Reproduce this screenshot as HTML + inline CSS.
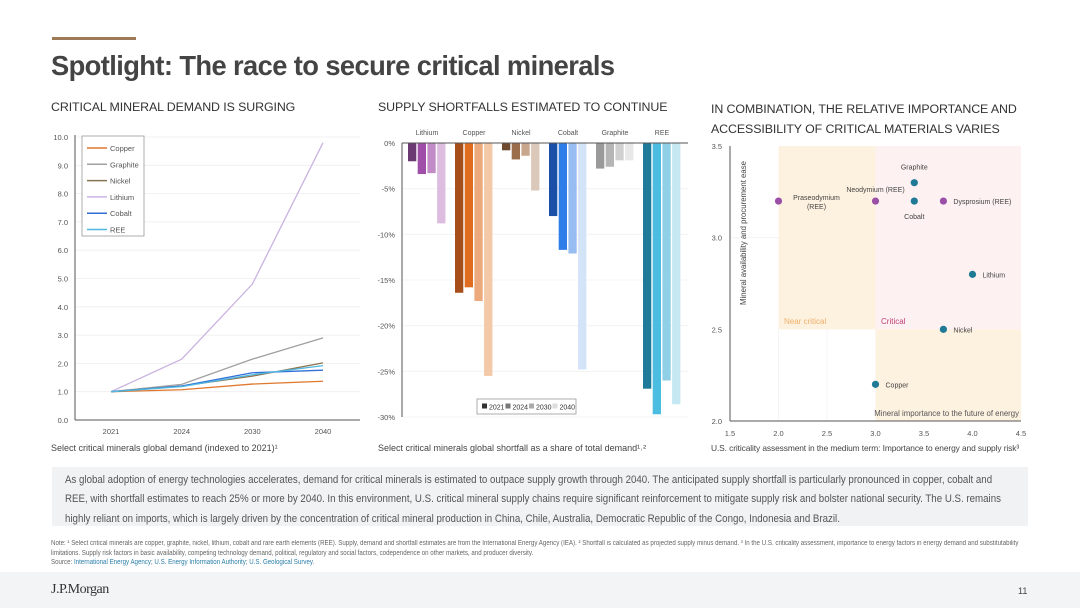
<!DOCTYPE html>
<html><head><meta charset="utf-8">
<style>
*{margin:0;padding:0;box-sizing:border-box}
body{width:1080px;height:608px;background:#fff;font-family:"Liberation Sans",sans-serif;color:#444;position:relative;overflow:hidden}
.abs{position:absolute;white-space:nowrap}
.h{font-size:12.4px;color:#333;letter-spacing:-0.1px}
svg text{font-family:"Liberation Sans",sans-serif}
a{color:#2a7ea8}
.sx{transform-origin:0 0}
</style></head><body>
<div class="abs" style="left:52px;top:37px;width:84px;height:3px;background:#9b7a55"></div>
<div class="abs" style="left:51px;top:50px;font-size:27.3px;font-weight:bold;color:#444;letter-spacing:-0.6px">Spotlight: The race to secure critical minerals</div>
<div class="abs h" style="left:51px;top:100px">CRITICAL MINERAL DEMAND IS SURGING</div>
<div class="abs h" style="left:378px;top:100px">SUPPLY SHORTFALLS ESTIMATED TO CONTINUE</div>
<div class="abs h" style="left:711px;top:99px;line-height:20px">IN COMBINATION, THE RELATIVE IMPORTANCE AND<br>ACCESSIBILITY OF CRITICAL MATERIALS VARIES</div>

<svg class="abs" style="left:0;top:0" width="1080" height="460">
<g id="c1"></g><g id="c2"></g><g id="c3"></g>
</svg>

<div class="abs" style="left:51px;top:443px;font-size:9px">Select critical minerals global demand (indexed to 2021)¹</div>
<div class="abs" style="left:378px;top:443px;font-size:9px">Select critical minerals global shortfall as a share of total demand¹˒²</div>
<div class="abs" style="left:711px;top:443px;font-size:8.4px;letter-spacing:-0.1px">U.S. criticality assessment in the medium term: Importance to energy and supply risk³</div>

<div class="abs" style="left:52px;top:467px;width:976px;height:59px;background:#f0f2f4"></div>
<div class="abs sx" style="left:65px;top:471px;width:1105px;font-size:11.3px;line-height:19.3px;color:#555;white-space:normal;transform:scaleX(0.86)">As global adoption of energy technologies accelerates, demand for critical minerals is estimated to outpace supply growth through 2040. The anticipated supply shortfall is particularly pronounced in copper, cobalt and REE, with shortfall estimates to reach 25% or more by 2040. In this environment, U.S. critical mineral supply chains require significant reinforcement to mitigate supply risk and bolster national security. The U.S. remains highly reliant on imports, which is largely driven by the concentration of critical mineral production in China, Chile, Australia, Democratic Republic of the Congo, Indonesia and Brazil.</div>

<div class="abs sx" style="left:51px;top:539px;width:1114px;font-size:7px;line-height:9.5px;color:#666;white-space:normal;transform:scaleX(0.88)">Note: ¹ Select critical minerals are copper, graphite, nickel, lithium, cobalt and rare earth elements (REE). Supply, demand and shortfall estimates are from the International Energy Agency (IEA). ² Shortfall is calculated as projected supply minus demand. ³ In the U.S. criticality assessment, importance to energy factors in energy demand and substitutability limitations. Supply risk factors in basic availability, competing technology demand, political, regulatory and social factors, codependence on other markets, and producer diversity.<br>Source: <a>International Energy Agency</a>; <a>U.S. Energy Information Authority</a>; <a>U.S. Geological Survey</a>.</div>

<div class="abs" style="left:0;top:572px;width:1080px;height:36px;background:#f3f4f5"></div>
<div class="abs" style="left:51px;top:582px;font-family:'Liberation Serif',serif;font-size:14px;color:#333;letter-spacing:-0.5px">J.P.Morgan</div>
<div class="abs" style="left:1018px;top:586px;font-size:9px;color:#444">11</div>

<script>
// Chart 1 data
const years = ["2021","2024","2030","2040"];
const lineSeries = ["Copper","Graphite","Nickel","Lithium","Cobalt","REE"];
const copperDemand = [1.0,1.07,1.27,1.37];
const graphiteDemand = [1.0,1.26,2.15,2.9];
const nickelDemand = [1.0,1.2,1.55,2.02];
const lithiumDemand = [1.0,2.15,4.8,9.8];
const cobaltDemand = [1.0,1.2,1.67,1.76];
const reeDemand = [1.0,1.18,1.6,1.92];
const demandTicks = [0,1,2,3,4,5,6,7,8,9,10];
// Chart 2 data
const minerals = ["Lithium","Copper","Nickel","Cobalt","Graphite","REE"];
const shortfallYears = ["2021","2024","2030","2040"];
const lithiumShort = [-2.0,-3.4,-3.3,-8.8];
const copperShort = [-16.4,-15.8,-17.3,-25.5];
const nickelShort = [-0.8,-1.8,-1.4,-5.2];
const cobaltShort = [-8.0,-11.7,-12.1,-24.8];
const graphiteShort = [-2.8,-2.6,-1.9,-1.9];
const reeShort = [-26.9,-29.7,-26.0,-28.6];
const shortTicks = [0,-5,-10,-15,-20,-25,-30];
// Chart 3 data
const pointNames = ["Praseodymium (REE)","Neodymium (REE)","Graphite","Cobalt","Dysprosium (REE)","Lithium","Nickel","Copper"];
const pointX = [2.0,3.0,3.4,3.4,3.7,4.0,3.7,3.0];
const pointY = [3.2,3.2,3.3,3.2,3.2,2.8,2.5,2.2];
const pointIsREE = [1,1,0,0,1,0,0,0];
const xTicks3 = [1.5,2.0,2.5,3.0,3.5,4.0,4.5];
const yTicks3 = [2.0,2.5,3.0,3.5];

const NS="http://www.w3.org/2000/svg";
function mk(parent,tag,attrs,name,text){const e=document.createElementNS(NS,tag);for(const k in attrs)e.setAttribute(k,attrs[k]);


if(text!==undefined)e.textContent=text;parent.appendChild(e);return e;}

// ---- Chart 1
(function(){
const g=document.getElementById('c1');
const x0=75,x1=360,yT=137,yB=420;
const xs=i=>111+i*((323-111)/3);
const ys=v=>yB-(v/10)*(yB-yT);
demandTicks.forEach(t=>{
 mk(g,'line',{x1:x0,x2:x1,y1:ys(t),y2:ys(t),stroke:'#eeeeee','stroke-width':0.8},'gridline');
 mk(g,'text',{x:x0-7,y:ys(t)+3,'font-size':7.5,fill:'#555','text-anchor':'end'},'y-tick-label',t.toFixed(1));
});
mk(g,'line',{x1:x0,x2:x0,y1:yT-2,y2:yB,stroke:'#555','stroke-width':1},'y-axis');
mk(g,'line',{x1:x0,x2:x1,y1:yB,y2:yB,stroke:'#555','stroke-width':1},'x-axis');
years.forEach((y,i)=>mk(g,'text',{x:xs(i),y:yB+14,'font-size':7.5,fill:'#555','text-anchor':'middle'},'x-tick-label',y));
const data=[copperDemand,graphiteDemand,nickelDemand,lithiumDemand,cobaltDemand,reeDemand];
const cols=['#e0782e','#a0a0a0','#8a7350','#c9b4e0','#2f6fd6','#4fb8e0'];
[3,1,0,2,4,5].forEach(s=>{
 mk(g,'polyline',{points:data[s].map((v,i)=>xs(i)+','+ys(v)).join(' '),fill:'none',stroke:cols[s],'stroke-width':1.3},'line-'+lineSeries[s].toLowerCase());
});
mk(g,'rect',{x:82,y:136,width:62,height:100,fill:'#fff',stroke:'#999','stroke-width':0.8},'legend-box');
lineSeries.forEach((n,i)=>{
 const y=148+i*16.3;
 mk(g,'line',{x1:87,x2:107,y1:y,y2:y,stroke:cols[i],'stroke-width':1.5},'legend-swatch');
 mk(g,'text',{x:110,y:y+3,'font-size':7.5,fill:'#555'},'legend-entry',n);
});
})();

// ---- Chart 2
(function(){
const g=document.getElementById('c2');
const x0=402,x1=688,y0=143,yB=417;
const ys=v=>y0+(-v/30)*(yB-y0);
shortTicks.forEach(t=>{
 if(t!==0)mk(g,'line',{x1:x0,x2:x1,y1:ys(t),y2:ys(t),stroke:'#f0f0f0','stroke-width':0.8},'gridline');
 mk(g,'text',{x:x0-7,y:ys(t)+3,'font-size':7.5,fill:'#555','text-anchor':'end'},'y-tick-label',t+'%');
});
const data=[lithiumShort,copperShort,nickelShort,cobaltShort,graphiteShort,reeShort];
const cols=[['#6b3a73','#a04fa8','#c08bc6','#dcbde0'],['#a64f1a','#e06c20','#eba97c','#f3c9a8'],['#6e4a30','#9c6d4b','#c9a78d','#dcc8b8'],['#1a4fa8','#2f7de8','#98bdf0','#d4e4f8'],['#9a9a9a','#b5b5b5','#d0d0d0','#e8e8e8'],['#1d7a99','#4bbde0','#8fd0e6','#c5e8f3']];
const gx=i=>408+i*47;
data.forEach((arr,m)=>{
 arr.forEach((v,k)=>{
  mk(g,'rect',{x:gx(m)+k*9.7,y:ys(0),width:8.3,height:ys(v)-ys(0),fill:cols[m][k]},'bar-'+minerals[m].toLowerCase()+'-'+shortfallYears[k]);
 });
 mk(g,'text',{x:gx(m)+19,y:135,'font-size':7,fill:'#555','text-anchor':'middle'},'category-label',minerals[m]);
});
mk(g,'line',{x1:x0,x2:x1,y1:y0,y2:y0,stroke:'#555','stroke-width':1},'x-axis');
mk(g,'line',{x1:x0,x2:x0,y1:y0,y2:yB,stroke:'#555','stroke-width':1},'y-axis');
mk(g,'rect',{x:477,y:399,width:99,height:15,fill:'#fff',stroke:'#999','stroke-width':0.8},'legend-box');
const lc=['#333','#777','#aaa','#ddd'];
shortfallYears.forEach((y,i)=>{
 mk(g,'rect',{x:482+i*23.5,y:403.5,width:5,height:5,fill:lc[i]},'legend-swatch');
 mk(g,'text',{x:489+i*23.5,y:409.5,'font-size':7,fill:'#333'},'legend-entry',y);
});
})();

// ---- Chart 3
(function(){
const g=document.getElementById('c3');
const xs=v=>730+(v-1.5)*97;
const ys=v=>421-(v-2.0)*183.3;
mk(g,'rect',{x:xs(2),y:ys(3.5),width:xs(3)-xs(2),height:ys(2.5)-ys(3.5),fill:'#fdf1e0'},'near-critical-zone');
mk(g,'rect',{x:xs(3),y:ys(3.5),width:xs(4.5)-xs(3),height:ys(2.5)-ys(3.5),fill:'#fdf1f1'},'critical-zone');
mk(g,'rect',{x:xs(3),y:ys(2.5),width:xs(4.5)-xs(3),height:ys(2)-ys(2.5),fill:'#fdf1e0'},'importance-zone');
[2.0,2.5].forEach(t=>mk(g,'line',{x1:xs(t),x2:xs(t),y1:ys(2.5),y2:ys(2),stroke:'#f2f2f2','stroke-width':0.8},'gridline'));
[3.0].forEach(t=>mk(g,'line',{x1:xs(1.5),x2:xs(2),y1:ys(t),y2:ys(t),stroke:'#f2f2f2','stroke-width':0.8},'gridline'));
mk(g,'line',{x1:xs(1.5),x2:xs(1.5),y1:ys(3.5),y2:ys(2),stroke:'#555','stroke-width':1},'y-axis');
mk(g,'line',{x1:xs(1.5),x2:xs(4.5),y1:ys(2),y2:ys(2),stroke:'#555','stroke-width':1},'x-axis');
xTicks3.forEach(t=>mk(g,'text',{x:xs(t),y:ys(2)+15,'font-size':7.5,fill:'#555','text-anchor':'middle'},'x-tick-label',t.toFixed(1)));
yTicks3.forEach(t=>mk(g,'text',{x:xs(1.5)-8,y:ys(t)+3,'font-size':7.5,fill:'#555','text-anchor':'end'},'y-tick-label',t.toFixed(1)));
mk(g,'text',{x:0,y:0,'font-size':7.8,fill:'#444','text-anchor':'middle',transform:'translate(746,233) rotate(-90)'},'y-axis-title','Mineral availability and procurement ease');
mk(g,'text',{x:784,y:324,'font-size':8,fill:'#f0b06a'},'near-critical-label','Near critical');
mk(g,'text',{x:881,y:324,'font-size':8,fill:'#c0407a'},'critical-label','Critical');
mk(g,'text',{x:1019,y:416,'font-size':7.8,fill:'#555','text-anchor':'end'},'importance-label','Mineral importance to the future of energy');
const lab=[[10,-3,'start'],[0,-9,'middle'],[0,-13,'middle'],[0,18,'middle'],[10,3,'start'],[10,3,'start'],[10,3,'start'],[10,3,'start']];
pointNames.forEach((n,i)=>{
 const cx=xs(pointX[i]),cy=ys(pointY[i]);
 mk(g,'circle',{cx:cx,cy:cy,r:3.6,fill:pointIsREE[i]?'#9b50a8':'#1f7a96'},'point-'+n.split(' ')[0].toLowerCase());
 if(i===0){
  mk(g,'text',{x:cx+38,y:cy-1,'font-size':7,fill:'#444','text-anchor':'middle'},'point-label','Praseodymium');
  mk(g,'text',{x:cx+38,y:cy+8,'font-size':7,fill:'#444','text-anchor':'middle'},'point-label','(REE)');
 } else if(i===1){
  mk(g,'text',{x:cx,y:cy-9,'font-size':7,fill:'#444','text-anchor':'middle'},'point-label',n);
 } else {
  const l=lab[i];
  mk(g,'text',{x:cx+l[0],y:cy+l[1],'font-size':7,fill:'#444','text-anchor':l[2]},'point-label',n);
 }
});
})();
</script>
</body></html>
